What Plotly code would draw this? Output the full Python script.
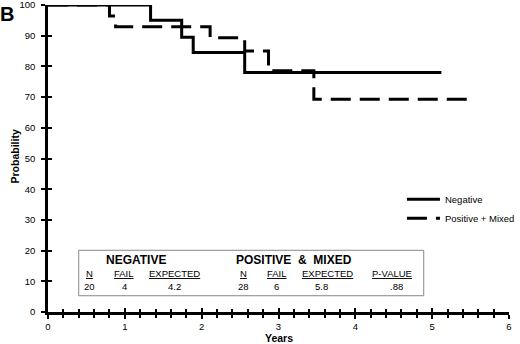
import plotly.graph_objects as go

# Kaplan-Meier step data (years, probability %)
neg_years = [0, 1.335, 1.74, 1.89, 2.56, 5.12]
neg_prob = [100, 95, 89.5, 84.5, 78, 78]

pos_years = [0, 0.80, 0.88, 2.11, 2.56, 2.87, 3.46, 5.48]
pos_prob = [100, 96.4, 92.9, 89.3, 85, 78.6, 69.3, 69.3]

series_names = ["Negative", "Positive + Mixed"]

# Summary table
table_groups = ["NEGATIVE", "POSITIVE  &  MIXED"]
table_headers = ["N", "FAIL", "EXPECTED", "N", "FAIL", "EXPECTED", "P-VALUE"]
table_values = ["20", "4", "4.2", "28", "6", "5.8", ".88"]

x_ticks = [0, 1, 2, 3, 4, 5, 6]
y_ticks = [0, 10, 20, 30, 40, 50, 60, 70, 80, 90, 100]

FONT = "Liberation Sans, Arial, Helvetica, sans-serif"

fig = go.Figure()
fig.add_trace(go.Scatter(x=neg_years, y=neg_prob, mode="lines", line_shape="hv",
                         name=series_names[0], line=dict(color="black", width=3)))
fig.add_trace(go.Scatter(x=pos_years, y=pos_prob, mode="lines", line_shape="hv",
                         name=series_names[1],
                         line=dict(color="black", width=3, dash="20px,9px")))
# dummy trace to create the overlay axes (for crossing ticks)
fig.add_trace(go.Scatter(x=[None], y=[None], xaxis="x2", yaxis="y2",
                         showlegend=False, hoverinfo="skip"))

# table box
fig.add_shape(type="rect", xref="x", yref="y", x0=0.4, x1=4.89, y0=5.3, y1=20.1,
              line=dict(color="#888888", width=1), fillcolor="white", layer="above")

grp_x = [1.15, 3.2]
for gx, g in zip(grp_x, table_groups):
    fig.add_annotation(x=gx, y=16.8, xref="x", yref="y", text="<b>" + g + "</b>",
                       showarrow=False, font=dict(size=12, family=FONT, color="black"))
hdr_x = [0.535, 0.99, 1.65, 2.54, 2.98, 3.64, 4.48]
val_x = [0.535, 0.99, 1.65, 2.54, 2.98, 3.56, 4.53]
for hx, h in zip(hdr_x, table_headers):
    fig.add_annotation(x=hx, y=12.4, xref="x", yref="y", text="<u>" + h + "</u>",
                       showarrow=False, font=dict(size=9.5, family=FONT, color="black"))
for vx, v in zip(val_x, table_values):
    fig.add_annotation(x=vx, y=8.2, xref="x", yref="y", text=v,
                       showarrow=False, font=dict(size=9.5, family=FONT, color="black"))

# panel letter and axis titles
fig.add_annotation(x=0, y=1, xref="paper", yref="paper", xanchor="left", yanchor="top",
                   xshift=-50, yshift=4, text="<b>B</b>", showarrow=False,
                   font=dict(size=20, family=FONT, color="black"))
fig.add_annotation(x=0, y=0.5, xref="paper", yref="paper", xanchor="center", yanchor="middle",
                   xshift=-34, yshift=2, textangle=-90, text="<b>Probability</b>", showarrow=False,
                   font=dict(size=10.5, family=FONT, color="black"))
fig.add_annotation(x=0.5, y=0, xref="paper", yref="paper", xanchor="center", yanchor="middle",
                   yshift=-26, text="<b>Years</b>", showarrow=False,
                   font=dict(size=10.5, family=FONT, color="black"))

axis_common = dict(showgrid=False, zeroline=False, color="black", automargin=False,
                   ticklabeloverflow="allow",
                   tickfont=dict(size=9.5, family=FONT, color="black"))

fig.update_layout(
    width=520, height=344,
    margin=dict(l=48, r=11, t=5, b=32, autoexpand=False),
    paper_bgcolor="white", plot_bgcolor="white",
    font=dict(family=FONT, color="black"),
    showlegend=True,
    legend=dict(xref="container", yref="container", x=0.773, y=0.463,
                xanchor="left", yanchor="top", itemwidth=33,
                font=dict(size=9.5, family=FONT, color="black"),
                bgcolor="rgba(0,0,0,0)", tracegroupgap=0),
    xaxis=dict(range=[0, 6], tickvals=x_ticks, ticks="outside", ticklen=4, tickwidth=2,
               showline=True, linewidth=2.5, linecolor="black",
               minor=dict(dtick=0.2, ticks="outside", ticklen=3, tickwidth=2, tickcolor="black"),
               **axis_common),
    yaxis=dict(range=[0, 100], tickvals=y_ticks, ticks="outside", ticklen=4, tickwidth=2,
               showline=True, linewidth=2.5, linecolor="black", ticklabelstandoff=4,
               **axis_common),
    xaxis2=dict(range=[0, 6], overlaying="x", anchor="y2", matches="x", tickvals=x_ticks,
                ticks="inside", ticklen=4, tickwidth=2, showticklabels=False, showline=False,
                minor=dict(dtick=0.2, ticks="inside", ticklen=3, tickwidth=2, tickcolor="black"),
                showgrid=False, zeroline=False, tickcolor="black", automargin=False),
    yaxis2=dict(range=[0, 100], overlaying="y", anchor="x2", matches="y", tickvals=y_ticks,
                ticks="inside", ticklen=4, tickwidth=2, showticklabels=False, showline=False,
                showgrid=False, zeroline=False, tickcolor="black", automargin=False),
)

fig.write_html("out.html", config={"displayModeBar": False},
               post_script="document.body.style.margin='0';document.body.style.overflow='hidden';")
